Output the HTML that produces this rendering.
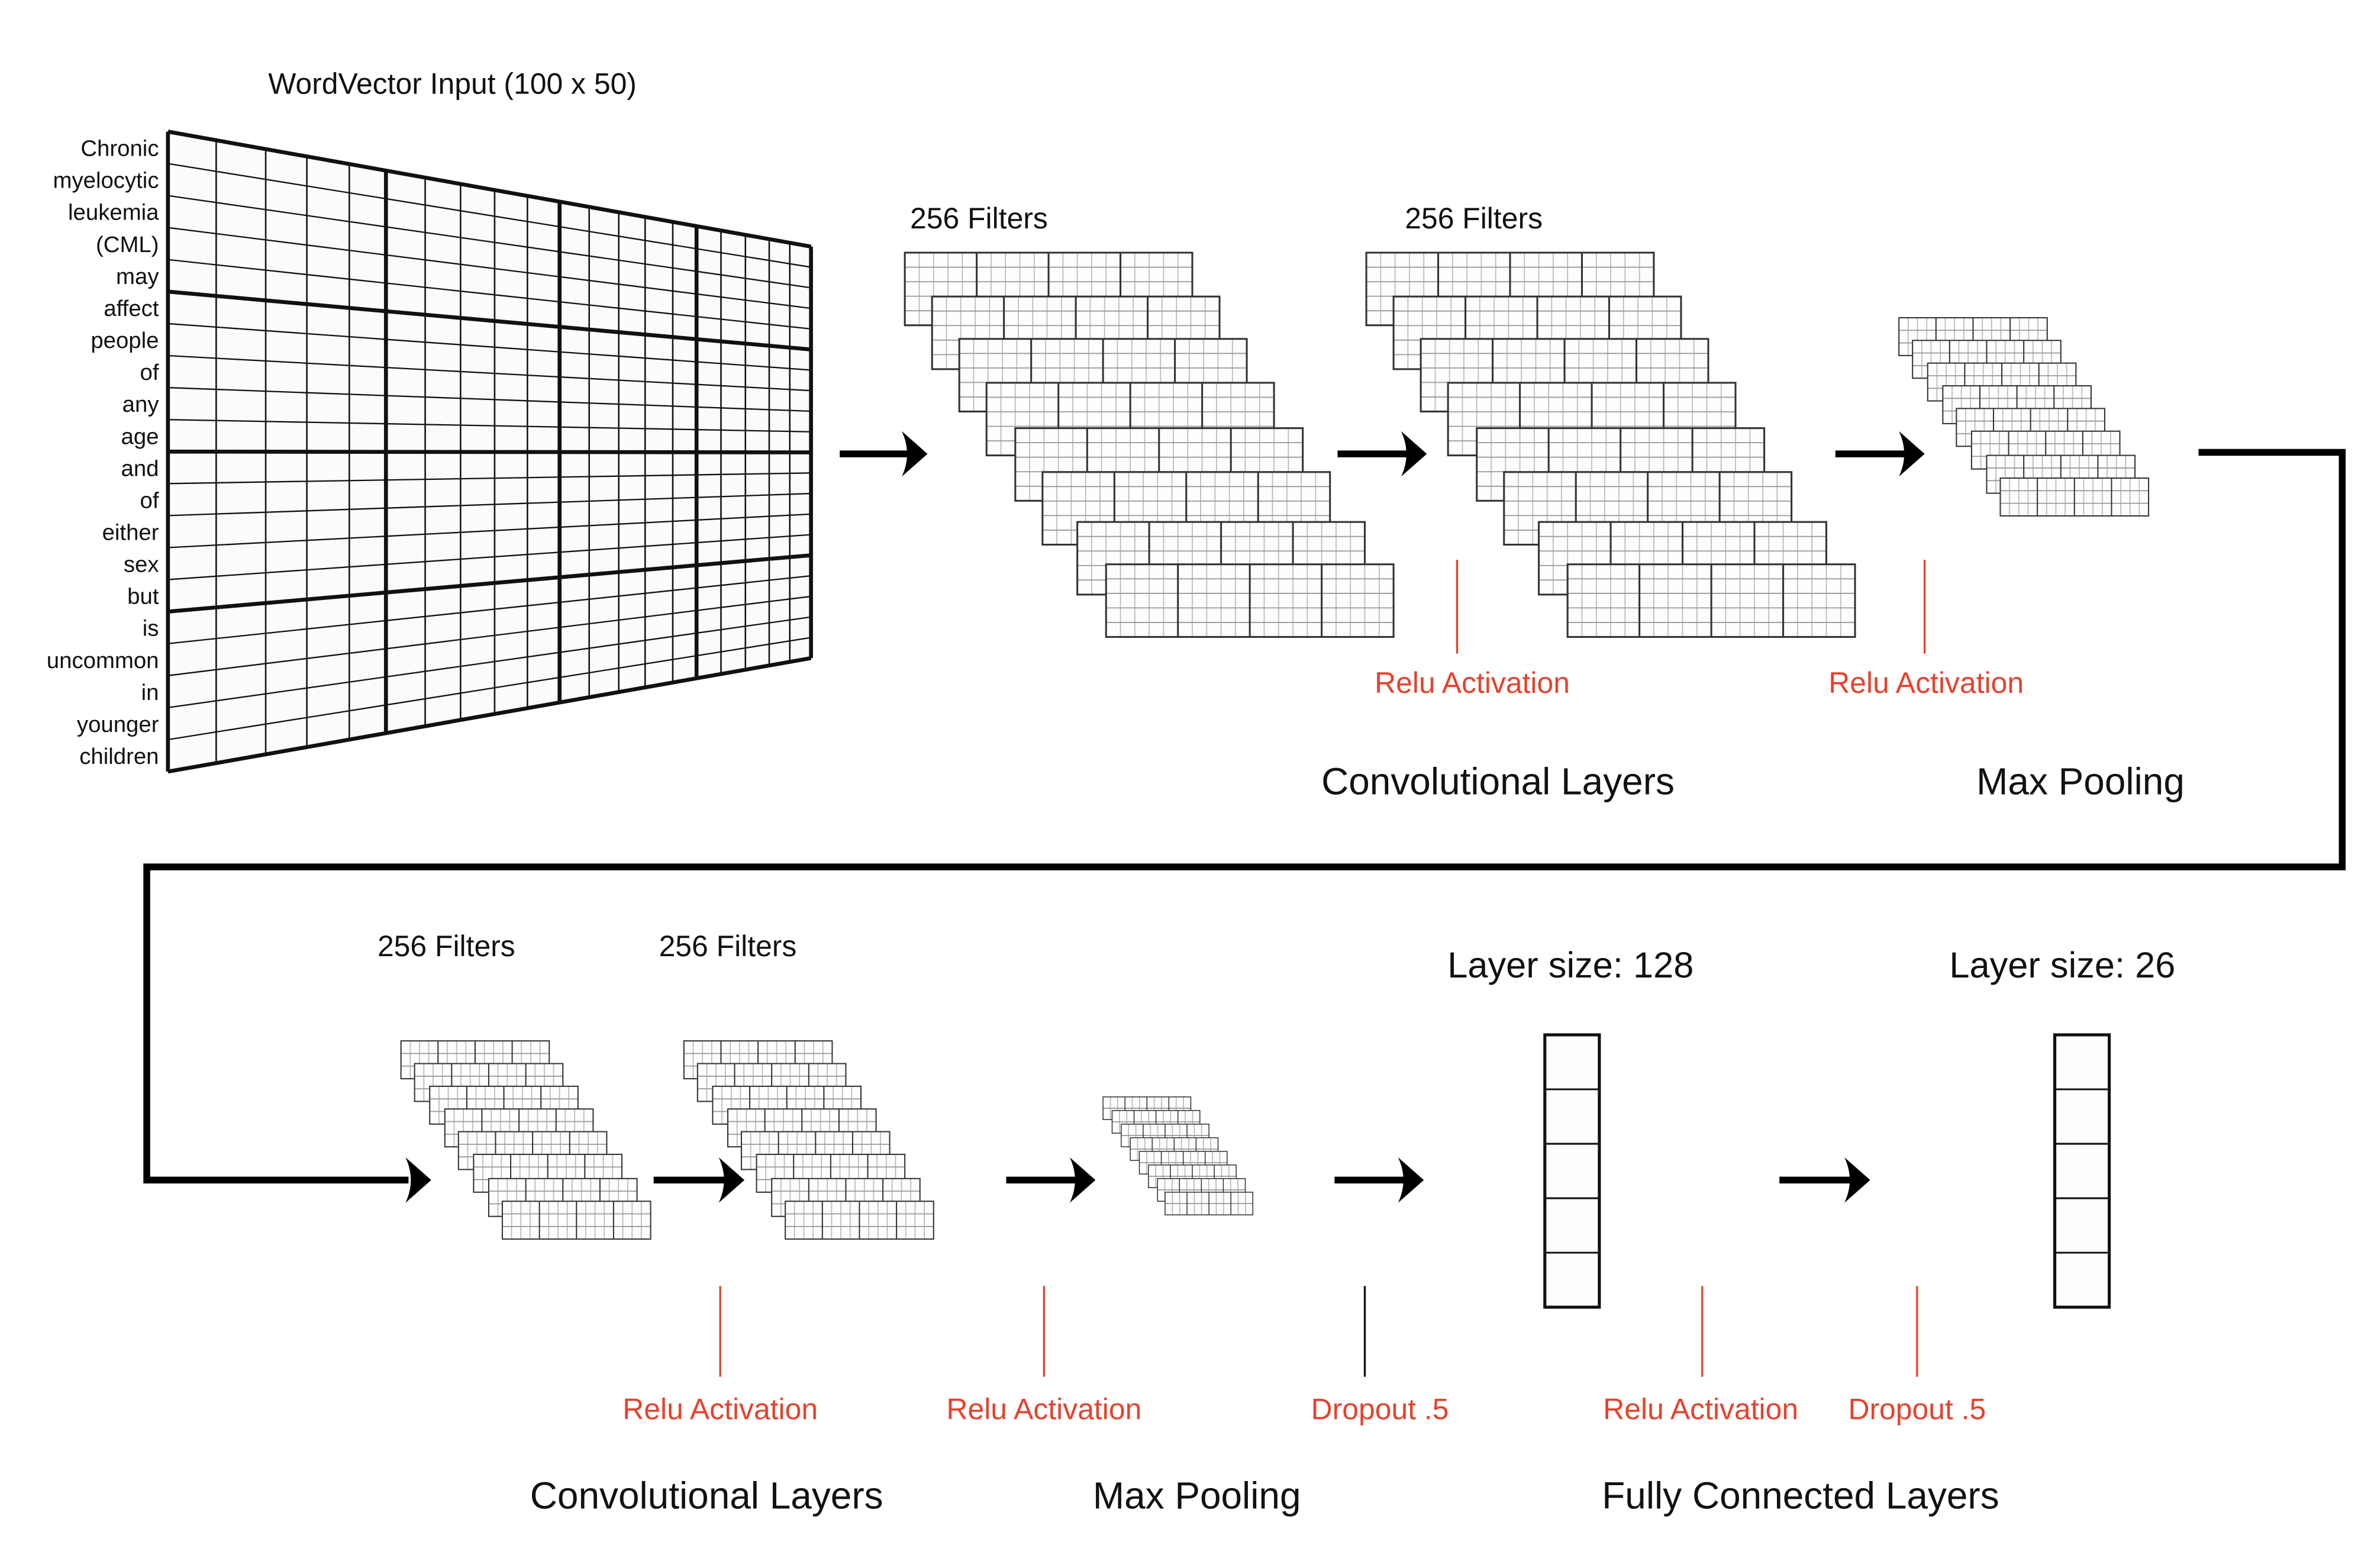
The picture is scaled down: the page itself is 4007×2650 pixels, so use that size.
<!DOCTYPE html>
<html><head><meta charset="utf-8"><style>
html,body{margin:0;padding:0;background:#fff;}
svg{display:block;}
text{font-family:"Liberation Sans",sans-serif;}
</style></head><body>
<svg id="c" width="4007" height="2650" viewBox="0 0 1567 1036.4" preserveAspectRatio="none" xmlns="http://www.w3.org/2000/svg">
<rect width="1567" height="1037" fill="#fff"/>
<g id="g"></g>
</svg>
<script>
const words=["Chronic","myelocytic","leukemia","(CML)","may","affect","people","of","any","age","and","of","either","sex","but","is","uncommon","in","younger","children"];
const vFracs=[0,0.075,0.152,0.216,0.282,0.339,0.4,0.455,0.508,0.559,0.609,0.655,0.701,0.742,0.785,0.822,0.86,0.898,0.935,0.967,1];
const thickV=[5,10,15];
const NS="http://www.w3.org/2000/svg";
const G=document.getElementById('g');
function mk(tag,attrs,parent){const e=document.createElementNS(NS,tag);for(const k in attrs)e.setAttribute(k,attrs[k]);(parent||G).appendChild(e);return e;}
function txt(s,x,y,size,fill,anchor,parent){const t=mk('text',{x:x,y:y,'font-size':size,fill:fill,'text-anchor':anchor},parent);t.textContent=s;return t;}

const L=111,R=536,TL=87,BL=510,TR=163,BR=435;
const m=mk('g',{});


mk('polygon',{points:`${L},${TL} ${R},${TR} ${R},${BR} ${L},${BL}`,fill:'#fbfbfb',stroke:'none'},m);
for(let i=0;i<=20;i++){
  const yl=TL+(BL-TL)*i/20, yr=TR+(BR-TR)*i/20;
  const thick=(i%5==0);
  mk('line',{x1:L,y1:yl,x2:R,y2:yr,stroke:'#111','stroke-width':thick?2.6:0.9},m);
}
vFracs.forEach((f,j)=>{
  const x=L+(R-L)*f, yt=TL+(TR-TL)*f, yb=BL+(BR-BL)*f;
  const thick=(j==0||j==20||thickV.includes(j));
  mk('line',{x1:x,y1:yt,x2:x,y2:yb,stroke:'#111','stroke-width':thick?2.6:1},m);
});
words.forEach((w,i)=>{
  const t=txt(w,105,TL+(BL-TL)*(i+0.5)/20+5.5,15,'#111','end');
  
  
});
let t=txt('WordVector Input (100 x 50)',299,62,19.5,'#111','middle');



function stack(name,x0,y0,dx,dy,w,h,n,cols,sub,rows,lw){
  const g=mk('g',{});
  
  
  for(let k=0;k<n;k++){
    const x=x0+dx[k], y=y0+dy[k];
    mk('rect',{x:x,y:y,width:w,height:h,fill:'#fdfdfd',stroke:'none'},g);
    for(let c=0;c<cols*sub;c++){ if(c%sub==0) continue;
      const xx=x+w*c/(cols*sub); mk('line',{x1:xx,y1:y,x2:xx,y2:y+h,stroke:'#bbb','stroke-width':0.7},g);}
    for(let r=1;r<rows;r++){const yy=y+h*r/rows; mk('line',{x1:x,y1:yy,x2:x+w,y2:yy,stroke:'#999','stroke-width':0.7},g);}
    for(let c=1;c<cols;c++){const xx=x+w*c/cols; mk('line',{x1:xx,y1:y,x2:xx,y2:y+h,stroke:'#333','stroke-width':lw},g);}
    mk('rect',{x:x,y:y,width:w,height:h,fill:'none',stroke:'#333','stroke-width':lw},g);
  }
}
const bigDX=[0,18,36,54,73,91,114,133], bigDY=[0,29,57,86,116,145,178,206];
stack('filter-stack-1',598,167,bigDX,bigDY,190,48,8,4,5,5,1.2);
stack('filter-stack-2',903,167,bigDX,bigDY,190,48,8,4,5,5,1.2);
const smDX=[0,9,19,29,38,48,58,67], smDY=[0,15,30,45,60,75,91,106];
stack('pool-stack-1',1255,210,smDX,smDY,98,25,8,4,4,3,0.8);
stack('filter-stack-3',265,688,smDX,smDY,98,25,8,4,4,3,0.8);
stack('filter-stack-4',452,688,smDX,smDY,98,25,8,4,4,3,0.8);
const tDX=[0,6,12,18,24,30,36,41], tDY=[0,9,18,27,36,45,54,63];
stack('pool-stack-2',729,725,tDX,tDY,58,15,8,4,3,2,0.6);

function arrow(name,x1,x2,y){
  const g=mk('g',{});
  
  
  mk('line',{x1:x1,y1:y,x2:x2-8,y2:y,stroke:'#000','stroke-width':4.5},g);
  mk('path',{d:`M${x2},${y} L${x2-17},${y-15} Q${x2-10},${y} ${x2-17},${y+15} Z`,fill:'#000'},g);
}
arrow('arrow-1',555,613,300);
arrow('arrow-2',884,943,300);
arrow('arrow-3',1213,1272,300);
arrow('arrow-4',665,724,780);
arrow('arrow-5',882,941,780);
arrow('arrow-6',1176,1236,780);
arrow('arrow-7',432,492,780);
const con=mk('path',{d:'M1453,299 L1548,299 L1548,573 L97,573 L97,780 L270,780',fill:'none',stroke:'#000','stroke-width':4.5});


mk('path',{d:'M285,780 L268,765 Q275,780 268,795 Z',fill:'#000'});

function fc(name,x){
  const g=mk('g',{});
  
  
  mk('rect',{x:x,y:684,width:36,height:180,fill:'#fdfdfd',stroke:'#111','stroke-width':2},g);
  for(let i=1;i<5;i++) mk('line',{x1:x,y1:684+36*i,x2:x+36,y2:684+36*i,stroke:'#111','stroke-width':1.2},g);
}
fc('fc-layer-128',1021);
fc('fc-layer-26',1358);

const red='#e8412c';
function tick(name,x,y1,y2,col){const l=mk('line',{x1:x,y1:y1,x2:x,y2:y2,stroke:col,'stroke-width':1.3});

}
tick('relu-marker',963,370,432,red);
tick('relu-marker',1272,370,432,red);
tick('relu-marker',476,850,910,red);
tick('relu-marker',690,850,910,red);
tick('dropout-marker',902,850,910,'#111');
tick('relu-marker',1125,850,910,red);
tick('dropout-marker',1267,850,910,red);

const labels=[
 ['filters-label','256 Filters',647,151,19.5,'#111'],
 ['filters-label','256 Filters',974,151,19.5,'#111'],
 ['relu-label','Relu Activation',973,458,19.5,red],
 ['relu-label','Relu Activation',1273,458,19.5,red],
 ['section-title','Convolutional Layers',990,525,25,'#111'],
 ['section-title','Max Pooling',1375,525,25,'#111'],
 ['filters-label','256 Filters',295,632,19.5,'#111'],
 ['filters-label','256 Filters',481,632,19.5,'#111'],
 ['layer-size-label','Layer size: 128',1038,646,24,'#111'],
 ['layer-size-label','Layer size: 26',1363,646,24,'#111'],
 ['relu-label','Relu Activation',476,938,19.5,red],
 ['relu-label','Relu Activation',690,938,19.5,red],
 ['dropout-label','Dropout .5',912,938,19.5,red],
 ['relu-label','Relu Activation',1124,938,19.5,red],
 ['dropout-label','Dropout .5',1267,938,19.5,red],
 ['section-title','Convolutional Layers',467,997,25,'#111'],
 ['section-title','Max Pooling',791,997,25,'#111'],
 ['section-title','Fully Connected Layers',1190,997,25,'#111']
];
labels.forEach(a=>{const e=txt(a[1],a[2],a[3],a[4],a[5],'middle');

});
</script>
</body></html>
